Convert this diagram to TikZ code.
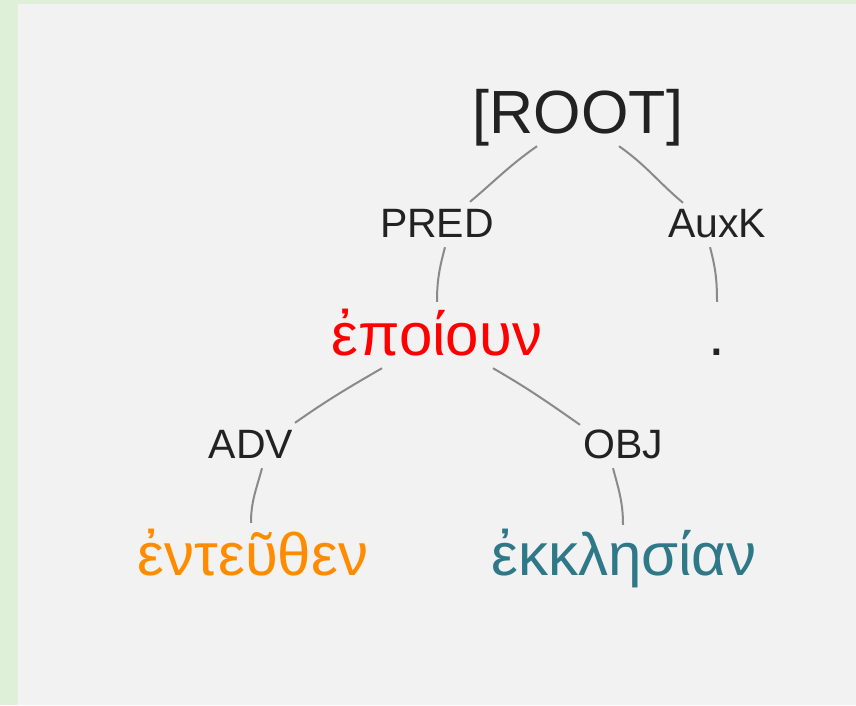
\documentclass[tikz,border=0pt]{standalone}
\usepackage{fontspec}
\setmainfont{Liberation Sans}
\definecolor{frame}{HTML}{DFF0D8}
\definecolor{panel}{HTML}{F2F2F2}
\definecolor{ink}{HTML}{222222}
\definecolor{link}{HTML}{8A8A8A}
\definecolor{advcol}{HTML}{FF8C00}
\definecolor{objcol}{HTML}{2E7888}

\begin{document}
\begin{tikzpicture}[x=1pt,y=-1pt,
  word/.style={inner sep=0pt,anchor=base,text height=48pt,text depth=13pt,font=\fontsize{60}{70}\selectfont},
  lab/.style={inner sep=0pt,anchor=base,text height=30pt,text depth=0pt,text=ink,font=\fontsize{41}{48}\selectfont},
  edge/.style={link,line width=2pt}]
\useasboundingbox (0,0) rectangle (856,705);
\fill[frame] (0,0) rectangle (856,705);
\fill[panel] (18,4) rectangle (856,705);

 \node[word,text=ink,text height=45pt,font=\fontsize{61}{70}\selectfont] (root) at (578,133) {[ROOT]};
 \node[lab] (pred) at (437,237) {PRED};
 \node[lab] (auxk) at (717,237) {AuxK};
 \node[word,text=red] (epoioun) at (437,355) {ἐποίουν};
 \node[word,text=ink] (dot) at (717,355) {.};
 \node[lab] (adv) at (251,458) {ADV};
 \node[lab] (obj) at (623,458) {OBJ};
 \node[word,text=advcol] (enteuthen) at (253,575) {ἐντεῦθεν};
 \node[word,text=objcol] (ekklesian) at (624,575) {ἐκκλησίαν};

 \draw[edge] ([xshift=-41pt]root.south) to[out=215,in=40] ([xshift=33pt,yshift=5pt]pred.north);
 \draw[edge] ([xshift=8pt,yshift=-10pt]pred.south) to[out=255,in=90] ([yshift=5pt]epoioun.north);
 \draw[edge] ([xshift=41pt]root.south) to[out=-35,in=140] ([xshift=-34pt,yshift=4pt]auxk.north);
 \draw[edge] ([xshift=-7pt,yshift=-10pt]auxk.south) to[out=-75,in=90] ([yshift=5pt]dot.north);
 \draw[edge] ([xshift=-55pt]epoioun.south) to[out=210,in=35] ([xshift=44pt,yshift=5pt]adv.north);
 \draw[edge] ([xshift=11pt,yshift=-10pt]adv.south) to[out=255,in=90] ([xshift=-2pt,yshift=4pt]enteuthen.north);
 \draw[edge] ([xshift=56pt]epoioun.south) to[out=-30,in=145] ([xshift=-43pt,yshift=3pt]obj.north);
 \draw[edge] ([xshift=-10pt,yshift=-10pt]obj.south) to[out=-75,in=90] ([xshift=-1pt,yshift=2pt]ekklesian.north);

\end{tikzpicture}
\end{document}
